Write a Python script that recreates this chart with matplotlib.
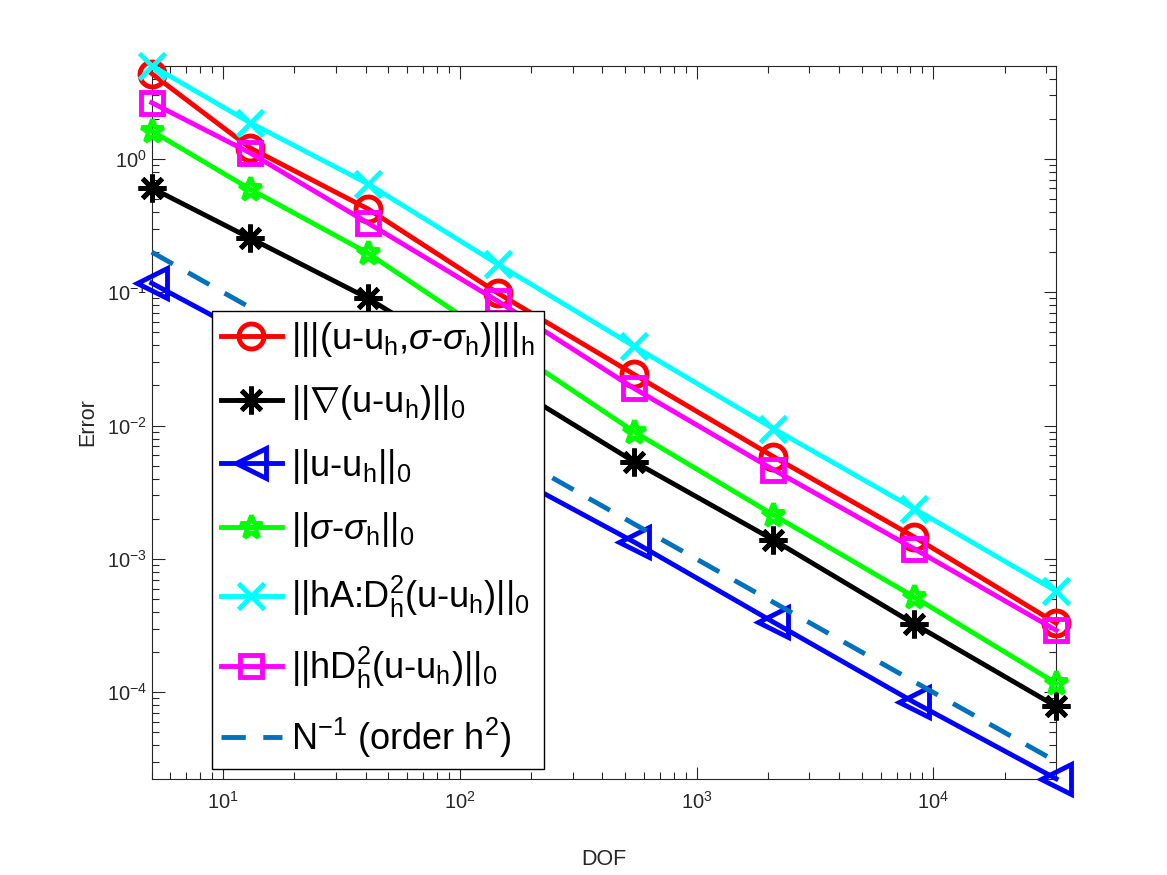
import matplotlib
matplotlib.use("Agg")
import matplotlib.pyplot as plt
from matplotlib.ticker import LogLocator, NullFormatter

plt.rcParams['font.family'] = ['Liberation Sans', 'DejaVu Sans']
plt.rcParams['mathtext.fontset'] = 'custom'
plt.rcParams['mathtext.rm'] = 'Liberation Sans'
plt.rcParams['mathtext.it'] = 'Liberation Sans:italic'
plt.rcParams['mathtext.bf'] = 'Liberation Sans:bold'

# degrees of freedom
dof = [5, 13, 41, 145, 545, 2113, 8321, 33025]

# errors
err_energy = [4.36, 1.21, 0.421, 0.0983, 0.0242, 5.85e-3, 1.46e-3, 3.30e-4]
err_grad = [0.605, 0.255, 0.0901, 0.0227, 5.36e-3, 1.39e-3, 3.25e-4, 7.85e-5]
err_l2 = [0.117, 0.0472, 0.0158, 4.75e-3, 1.34e-3, 3.36e-4, 8.4e-5, 2.25e-5]
err_sigma = [1.62, 0.594, 0.196, 0.0435, 9.0e-3, 2.14e-3, 5.18e-4, 1.17e-4]
err_hA = [5.0, 1.87, 0.649, 0.162, 0.0393, 9.49e-3, 2.38e-3, 5.74e-4]
err_hD2 = [2.64, 1.11, 0.330, 0.0856, 0.0190, 4.67e-3, 1.19e-3, 2.92e-4]
# reference slope N^-1
ref_line = [0.2, 0.0769, 0.0244, 6.90e-3, 1.83e-3, 4.73e-4, 1.20e-4, 3.03e-5]

labels = [
    r'|||(u-u$_\mathregular{h}$,$\sigma$-$\sigma_\mathregular{h}$)|||$_\mathregular{h}$',
    r'||$\nabla$(u-u$_\mathregular{h}$)||$_\mathregular{0}$',
    r'||u-u$_\mathregular{h}$||$_\mathregular{0}$',
    r'||$\sigma$-$\sigma_\mathregular{h}$||$_\mathregular{0}$',
    r'||hA:D$^\mathregular{2}_\mathregular{h}$(u-u$_\mathregular{h}$)||$_\mathregular{0}$',
    r'||hD$^\mathregular{2}_\mathregular{h}$(u-u$_\mathregular{h}$)||$_\mathregular{0}$',
    r'N$^\mathregular{-1}$ (order h$^\mathregular{2}$)',
]

fig = plt.figure(figsize=(11.67, 8.75), dpi=100)
ax = fig.add_axes([0.13, 0.11, 0.775, 0.815])

lw = 3.5
styles = [
    (err_energy, '#FF0000', 'o', 18),
    (err_grad, '#000000', (8, 2, 0), 20),
    (err_l2, '#0000FF', '<', 21),
    (err_sigma, '#00FF00', '*', 17),
    (err_hA, '#00FFFF', 'x', 19),
    (err_hD2, '#FF00FF', 's', 16),
]
for (vals, col, mk, ms), lab in zip(styles, labels[:6]):
    ax.loglog(dof, vals, color=col, lw=lw, marker=mk, ms=ms, mew=lw,
              mfc='none', mec=col, label=lab, clip_on=False, zorder=3)
ax.loglog(dof, ref_line, color='#0072BD', lw=lw, ls='--', dashes=(5, 3.6),
          label=labels[6], clip_on=False, zorder=3)

# tight axis like matlab
all_vals = err_energy + err_grad + err_l2 + err_sigma + err_hA + err_hD2
ax.set_xlim(min(dof), max(dof))
ax.set_ylim(min(all_vals), max(all_vals))

ax.xaxis.set_major_locator(LogLocator(base=10, numticks=20))
ax.xaxis.set_minor_locator(LogLocator(base=10, subs=range(2, 10), numticks=20))
ax.xaxis.set_minor_formatter(NullFormatter())
ax.yaxis.set_major_locator(LogLocator(base=10, numticks=20))
ax.yaxis.set_minor_locator(LogLocator(base=10, subs=range(2, 10), numticks=20))
ax.yaxis.set_minor_formatter(NullFormatter())

for s in ax.spines.values():
    s.set_color('#262626')
    s.set_linewidth(0.8)
ax.tick_params(which='both', direction='in', top=True, right=True,
               colors='#262626', width=0.8, labelsize=14.5)
ax.tick_params(which='major', length=9)
ax.tick_params(which='minor', length=5)
ax.tick_params(axis='x', pad=9)

ax.set_xlabel('DOF', fontsize=15.5, color='#262626', labelpad=26)
ax.set_ylabel('Error', fontsize=15.5, color='#262626', labelpad=6)

leg = ax.legend(loc='lower left', bbox_to_anchor=(0.0663, 0.014),
                borderaxespad=0, fontsize=26, numpoints=1, handlelength=1.7,
                handletextpad=0.25, labelspacing=0.68, borderpad=0.25,
                fancybox=False, framealpha=1, edgecolor='#000000')
leg.get_frame().set_linewidth(1.0)
leg.set_zorder(5)

fig.savefig('out.png', dpi=100, facecolor='white')
